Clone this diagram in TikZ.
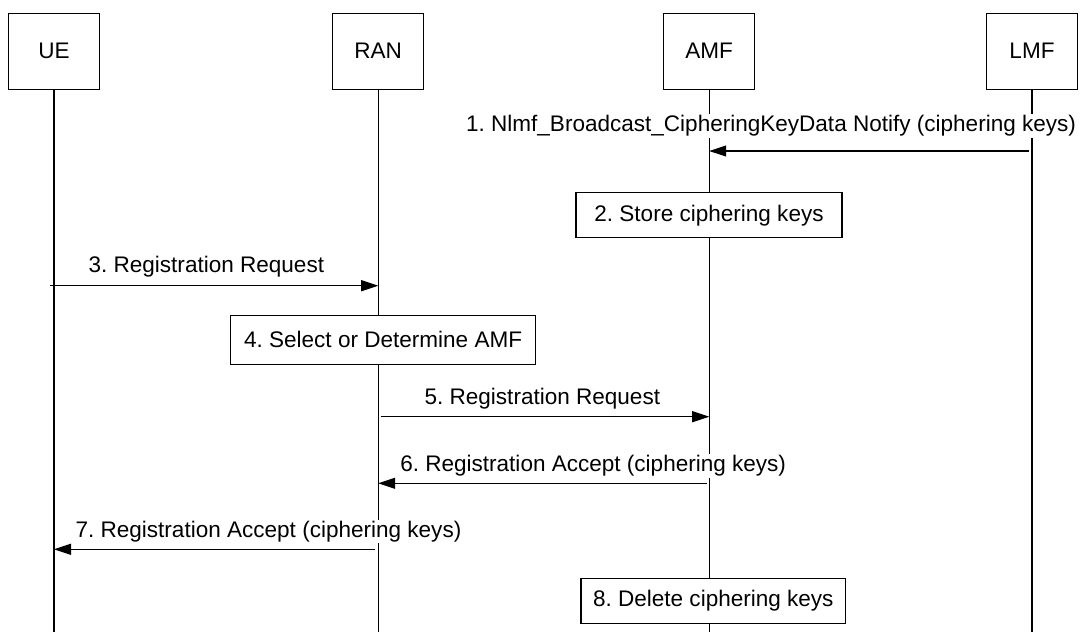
\documentclass[tikz,border=0pt]{standalone}
\usepackage{fontspec}
\setmainfont{Liberation Sans}
\usetikzlibrary{arrows.meta}
\frenchspacing
\begin{document}
\begin{tikzpicture}[x=0.75pt,y=-0.75pt,
  every node/.style={font=\fontsize{16.9pt}{20pt}\selectfont},
  hdr/.style={draw,line width=0.8pt,fill=white,minimum width=68pt,minimum height=56.8pt,inner sep=0pt},
  stepbox/.style={draw,line width=0.8pt,fill=white,minimum height=33.8pt,inner sep=0pt},
  life/.style={line width=0.8pt},
  msg/.style={line width=0.8pt,-{Triangle[length=12.75pt,width=8.25pt]}},
  lbl/.style={fill=white,inner sep=1pt,anchor=base west}]
\useasboundingbox (0,0) rectangle (1080,632);
% header boxes
\node[hdr] (ue)  at (54,51.2)   {UE};
\node[hdr] (ran) at (378.2,51.2) {RAN};
\node[hdr] (amf) at (709.2,51.2) {AMF};
\node[hdr] (lmf) at (1032,51.2)  {LMF};
\coordinate (bot) at (0,632);
% lifelines
\foreach \n in {ue,ran,amf,lmf}{\draw[life] (\n.south) -- (\n |- bot);}
% message rows
\coordinate (y1) at (0,151);
\coordinate (y3) at (0,285.7);
\coordinate (y5) at (0,416.7);
\coordinate (y6) at (0,483.3);
\coordinate (y7) at (0,549.3);
% messages
\draw[msg,shorten <=2.5pt] (lmf |- y1) -- (amf |- y1);
\node[lbl] (l1) at (464.5,131.7) {1. Nlmf\_Broadcast\_CipheringKeyData Notify (ciphering keys)};
\node[stepbox,minimum width=199.5pt] (s2) at (709,215.2) {2. Store ciphering keys};
\draw[msg,shorten <=-3pt] (ue |- y3) -- (ran |- y3);
\node[lbl] (l3) at (87,272) {3. Registration Request};
\node[stepbox,minimum width=228.6pt,minimum height=37pt] (s4) at (383.1,339.7) {4. Select or Determine AMF};
\draw[msg,shorten <=2.2pt] (ran |- y5) -- (amf |- y5);
\node[lbl] (l5) at (423,404) {5. Registration Request};
\draw[msg,shorten <=2pt] (amf |- y6) -- (ran |- y6);
\node[lbl] (l6) at (398.7,471.7) {6. Registration Accept (ciphering keys)};
\draw[msg,shorten <=2.2pt] (ran |- y7) -- (ue |- y7);
\node[lbl] (l7) at (74,537.3) {7. Registration Accept (ciphering keys)};
\node[stepbox,minimum width=198.5pt] (s8) at (713.3,600.8) {8. Delete ciphering keys};
\end{tikzpicture}
\end{document}
